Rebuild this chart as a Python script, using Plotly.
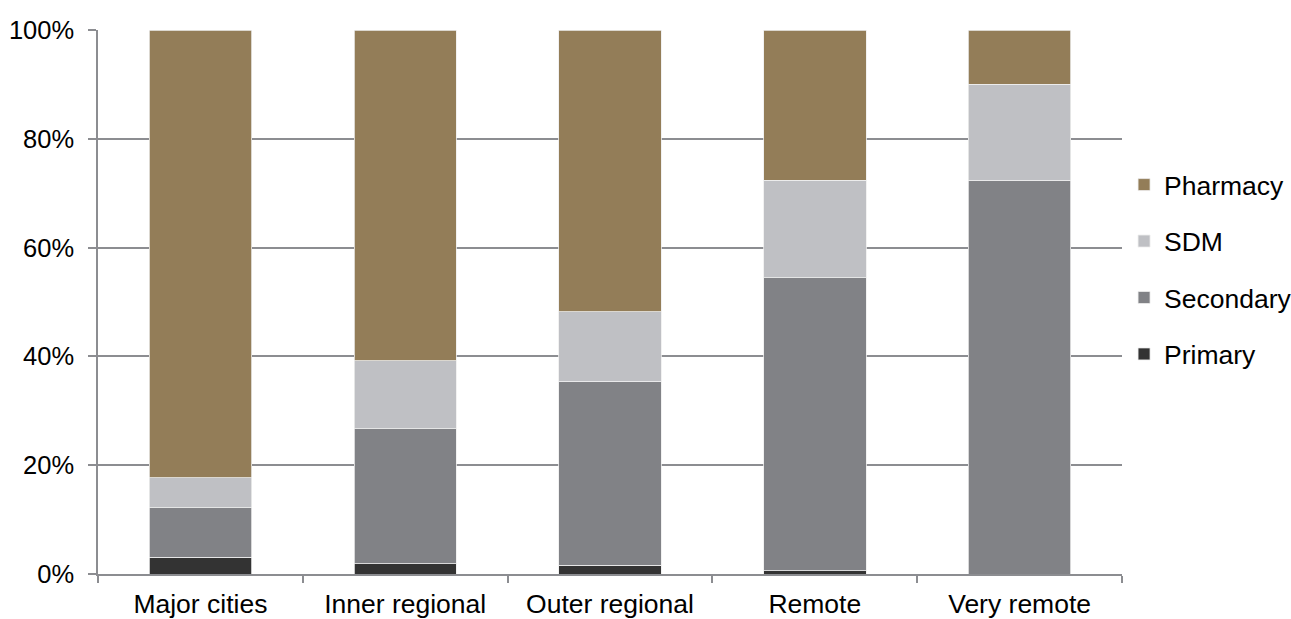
import plotly.graph_objects as go

categories = ["Major cities", "Inner regional", "Outer regional", "Remote", "Very remote"]
primary = [3.1, 1.9, 1.6, 0.6, 0.0]
secondary = [9.1, 24.8, 33.8, 53.9, 72.4]
sdm = [5.5, 12.5, 12.8, 17.9, 17.6]
pharmacy = [82.3, 60.8, 51.8, 27.6, 10.0]

series = [
    ("Primary", primary, "#333333", 4),
    ("Secondary", secondary, "#818286", 3),
    ("SDM", sdm, "#BFC0C4", 2),
    ("Pharmacy", pharmacy, "#937D58", 1),
]

fig = go.Figure()
for name, vals, color, rank in series:
    fig.add_trace(go.Bar(
        x=categories, y=[v / 100 for v in vals], name=name,
        marker=dict(color=color, line=dict(color="#EDEDED", width=0.8)),
        width=0.5, legendgroup=name, legendrank=rank,
    ))

axis_col = "#8C8D91"
fs = 26.5
fig.update_layout(
    barmode="stack",
    width=1291, height=619,
    margin=dict(l=98, r=169, t=30, b=45, autoexpand=False),
    plot_bgcolor="white", paper_bgcolor="white",
    font=dict(family="Liberation Sans, Arial", size=fs, color="#000000"),
    legend=dict(traceorder="grouped", tracegroupgap=19,
                x=1.002, xanchor="left", y=0.56, yanchor="middle",
                font=dict(size=fs), itemwidth=30),
    showlegend=True,
)
fig.update_yaxes(range=[0, 1], tickvals=[0, 0.2, 0.4, 0.6, 0.8, 1.0],
                 tickformat=".0%", showgrid=True, gridcolor=axis_col, gridwidth=1.5,
                 showline=True, linecolor=axis_col, linewidth=1.5,
                 ticks="outside", ticklen=8, tickcolor=axis_col, tickwidth=1.5,
                 zeroline=False, tickfont=dict(size=25.5), automargin=False,
                 ticklabelstandoff=9)
fig.update_xaxes(showline=True, linecolor=axis_col, linewidth=1.5,
                 ticks="outside", tickson="boundaries", ticklen=7,
                 tickcolor=axis_col, tickwidth=1.5, showgrid=False,
                 tickfont=dict(size=fs), automargin=False,
                 ticklabelstandoff=5)

fig.write_html("out.html")
